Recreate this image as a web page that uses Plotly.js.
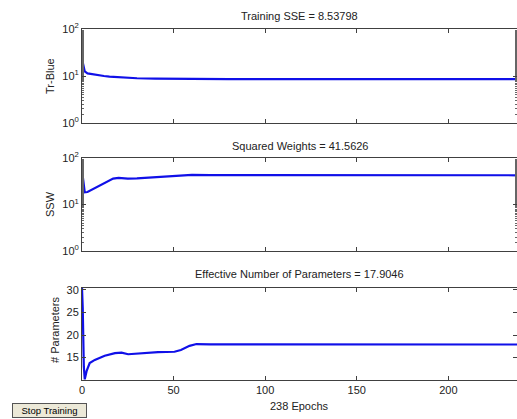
<!DOCTYPE html>
<html>
<head>
<meta charset="utf-8">
<script src="https://cdn.plot.ly/plotly-3.0.1.min.js"></script>
<style>html,body{margin:0;padding:0;background:#fff;overflow:hidden}#chart{width:517px;height:419px}</style>
</head>
<body>
<div id="chart"></div>
<script>
// Training SSE (Tr-Blue) vs epoch
var sseEpochs = [0, 0.5, 1, 1.5, 3, 5, 8, 12, 15, 22, 30, 40, 52, 80, 238];
var sseValues = [23, 19, 15.5, 12.5, 11.4, 11, 10.5, 10, 9.7, 9.2, 8.95, 8.8, 8.7, 8.6, 8.54];
// Squared weights (SSW) vs epoch
var sswEpochs = [0, 0.5, 1, 1.5, 3, 7, 12.5, 17, 20, 25, 30, 41, 50, 55, 60, 70, 238];
var sswValues = [55, 35, 22, 18.3, 18.6, 22.3, 28.6, 36, 37.5, 36, 36.5, 38.8, 41, 42.5, 43.5, 43, 42.5];
// Effective number of parameters vs epoch
var parEpochs = [0, 0.4, 1, 1.5, 2.5, 4.2, 7, 12.4, 18, 21.6, 25.2, 32.4, 41.5, 50.5, 54, 58.7, 62.5, 70, 238];
var parValues = [30.4, 26, 13, 10.2, 12, 13.8, 14.5, 15.4, 16, 16.1, 15.75, 16, 16.2, 16.3, 16.7, 17.6, 18.0, 17.95, 17.9];

var xTickVals = [0, 50, 100, 150, 200];
var logTickVals = [1, 10, 100];
var logTickText = ['10<sup>0</sup>', '10<sup>1</sup>', '10<sup>2</sup>'];
var parTickVals = [15, 20, 25, 30];

var titles = ['Training SSE = 8.53798', 'Squared Weights = 41.5626', 'Effective Number of Parameters = 17.9046'];
var yTitles = ['Tr-Blue', 'SSW', '# Parameters'];
var xTitle = '238 Epochs';
var buttonLabel = 'Stop Training';

var lineColor = '#1010e8';
var axColor = '#404040';
var font = {family: 'Liberation Sans, Arial, sans-serif', size: 11, color: '#222'};

var traces = [
  {x: sseEpochs, y: sseValues, xaxis: 'x', yaxis: 'y', mode: 'lines', line: {color: lineColor, width: 2.2}},
  {x: sswEpochs, y: sswValues, xaxis: 'x2', yaxis: 'y2', mode: 'lines', line: {color: lineColor, width: 2.2}},
  {x: parEpochs, y: parValues, xaxis: 'x3', yaxis: 'y3', mode: 'lines', line: {color: lineColor, width: 2.2}}
];

function xax(anchor, labels) {
  return {
    anchor: anchor, domain: [0, 1], range: [0, 237.5], tickvals: xTickVals,
    showticklabels: labels, ticks: 'inside', ticklen: 4, tickcolor: axColor,
    showline: true, linecolor: axColor, linewidth: 1, mirror: 'ticks',
    showgrid: false, zeroline: false, tickfont: font
  };
}
function logY(anchor, dom) {
  return {
    anchor: anchor, domain: dom, type: 'log', range: [0, 2],
    tickvals: logTickVals, ticktext: logTickText,
    ticks: 'inside', ticklen: 4, tickcolor: axColor,
    minor: {ticks: 'inside', ticklen: 2, tickcolor: '#666', showgrid: false},
    showline: true, linecolor: axColor, linewidth: 1, mirror: 'ticks',
    showgrid: false, zeroline: false, tickfont: font
  };
}

var H = 419;
function dom(top, bottom) { return [1 - bottom / H, 1 - top / H]; }

var layout = {
  width: 517, height: 419,
  margin: {l: 82, r: 0, t: 0, b: 0},
  paper_bgcolor: '#fff', plot_bgcolor: '#fff',
  showlegend: false, font: font,
  xaxis: xax('y', false),
  xaxis2: xax('y2', false),
  xaxis3: xax('y3', true),
  yaxis: logY('x', dom(29, 123)),
  yaxis2: logY('x2', dom(158, 251)),
  yaxis3: {
    anchor: 'x3', domain: dom(288, 380), range: [10.05, 30.4], tickvals: parTickVals,
    ticks: 'inside', ticklen: 4, tickcolor: axColor,
    showline: true, linecolor: axColor, linewidth: 1, mirror: 'ticks',
    showgrid: false, zeroline: false, tickfont: font
  },
  annotations: [
    {text: titles[0], xref: 'paper', yref: 'paper', x: 0.5, y: 1 - 16 / H, xanchor: 'center', yanchor: 'middle', showarrow: false, font: font},
    {text: titles[1], xref: 'paper', yref: 'paper', x: 0.5, y: 1 - 146 / H, xanchor: 'center', yanchor: 'middle', showarrow: false, font: font},
    {text: titles[2], xref: 'paper', yref: 'paper', x: 0.5, y: 1 - 274 / H, xanchor: 'center', yanchor: 'middle', showarrow: false, font: font},
    {text: yTitles[0], xref: 'paper', yref: 'paper', x: (50 - 82) / 435, y: 1 - 76 / H, textangle: -90, xanchor: 'center', yanchor: 'middle', showarrow: false, font: font},
    {text: yTitles[1], xref: 'paper', yref: 'paper', x: (50 - 82) / 435, y: 1 - 204 / H, textangle: -90, xanchor: 'center', yanchor: 'middle', showarrow: false, font: font},
    {text: yTitles[2], xref: 'paper', yref: 'paper', x: (55 - 82) / 435, y: 1 - 330 / H, textangle: -90, xanchor: 'center', yanchor: 'middle', showarrow: false, font: font},
    {text: xTitle, xref: 'paper', yref: 'paper', x: 0.5, y: 1 - 406 / H, xanchor: 'center', yanchor: 'middle', showarrow: false, font: font},
    {text: buttonLabel, xref: 'paper', yref: 'paper', x: (49 - 82) / 435, y: 1 - 410 / H, xanchor: 'center', yanchor: 'middle', showarrow: false,
     font: {family: 'Liberation Sans, Arial, sans-serif', size: 9.5, color: '#000'},
     width: 71, height: 11, bgcolor: '#ece9d8', bordercolor: '#555', borderwidth: 1, borderpad: 1}
  ]
};

Plotly.newPlot('chart', traces, layout, {displayModeBar: false, staticPlot: true});
</script>
</body>
</html>
